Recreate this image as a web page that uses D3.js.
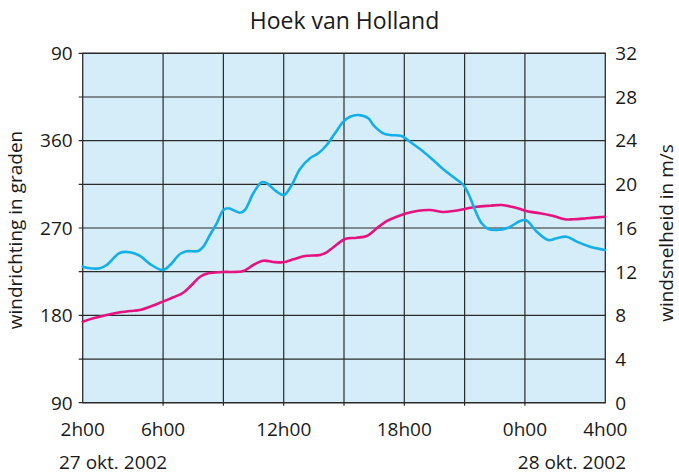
<!DOCTYPE html>
<html>
<head>
<meta charset="utf-8">
<script src="https://cdn.jsdelivr.net/npm/d3@7"></script>
<style>
  html, body { margin: 0; padding: 0; background: #ffffff; }
  svg text { font-family: "Open Sans", "Noto Sans", sans-serif; fill: #1a1a1a; }
</style>
</head>
<body>
<svg id="chart" width="679" height="476"></svg>
<script>
// ---- data (hours counted from 0h00 on 27 okt. 2002) ----
const speedHours = [2, 2.36, 2.86, 3.19, 3.86, 4.35, 4.85, 5.35, 5.98, 6.35, 6.84, 7.17, 7.75, 8.0, 8.33, 8.67, 9.0, 9.24, 9.83, 10.07, 10.49, 10.9, 11.15, 11.65, 12.01, 12.4, 12.81, 13.31, 13.72, 14.14, 14.55, 14.97, 15.3, 15.71, 16.21, 16.46, 16.96, 17.29, 17.87, 18.28, 18.95, 19.53, 19.94, 20.52, 20.94, 21.18, 21.52, 21.85, 22.18, 22.6, 23.17, 23.76, 24.01, 24.17, 24.59, 25.16, 25.58, 26.08, 26.58, 27.24, 27.99];
const speedValues = [12.46, 12.31, 12.31, 12.61, 13.74, 13.78, 13.44, 12.70, 12.15, 12.61, 13.62, 13.87, 13.89, 14.29, 15.36, 16.43, 17.65, 17.81, 17.40, 17.65, 19.18, 20.19, 20.10, 19.33, 19.02, 19.94, 21.41, 22.39, 22.84, 23.60, 24.67, 25.74, 26.19, 26.35, 26.05, 25.43, 24.67, 24.52, 24.43, 23.90, 22.99, 22.07, 21.38, 20.55, 19.94, 19.18, 17.65, 16.43, 15.91, 15.82, 16.03, 16.64, 16.73, 16.58, 15.66, 14.90, 15.06, 15.20, 14.75, 14.29, 13.99];

const directionHours = [2, 2.53, 3.19, 3.86, 4.35, 4.85, 5.35, 5.98, 6.51, 7.0, 7.42, 7.84, 8.25, 8.58, 9.0, 9.99, 10.49, 10.99, 11.48, 11.98, 12.48, 13.06, 13.81, 14.14, 14.47, 15.05, 15.63, 16.13, 16.63, 17.12, 17.62, 18.12, 18.7, 19.28, 19.94, 20.44, 21.02, 21.6, 22.26, 22.85, 23.34, 23.76, 24.0, 24.75, 25.41, 25.99, 26.41, 27.07, 27.99];
const directionValues = [173.5, 177.0, 180.4, 183.1, 184.5, 185.5, 188.9, 194.1, 198.6, 203.3, 211.3, 219.8, 223.3, 224.1, 224.7, 225.7, 231.9, 236.3, 235.0, 234.7, 237.7, 241.1, 242.2, 245.0, 250.1, 258.7, 260.0, 261.7, 269.7, 277.2, 281.6, 285.1, 287.8, 288.5, 286.5, 287.5, 289.6, 291.9, 293.0, 293.7, 291.9, 289.6, 287.8, 285.1, 282.4, 279.0, 279.0, 280.0, 281.6];

const xTickHours = [2, 6, 12, 18, 24, 28];
const xTickLabels = ["2h00", "6h00", "12h00", "18h00", "0h00", "4h00"];
const xGridHours = [6, 9, 12, 15, 18, 21, 24];
const leftTickValues = [90, 180, 270, 360, 450];
const leftTickLabels = ["90", "180", "270", "360", "90"];
const rightTickValues = [0, 4, 8, 12, 16, 20, 24, 28, 32];
const dateLabels = ["27 okt. 2002", "28 okt. 2002"];
const title = "Hoek van Holland";
const leftTitle = "windrichting in graden";
const rightTitle = "windsnelheid in m/s";

// ---- layout ----
const plot = { left: 82.7, top: 53.3, right: 605.3, bottom: 402.7 };
const svg = d3.select("#chart");

const x = d3.scaleLinear().domain([2, 28]).range([plot.left, plot.right]);
const yDir = d3.scaleLinear().domain([90, 450]).range([plot.bottom, plot.top]);
const ySpd = d3.scaleLinear().domain([0, 32]).range([plot.bottom, plot.top]);

// background
svg.append("rect")
  .attr("x", plot.left).attr("y", plot.top)
  .attr("width", plot.right - plot.left).attr("height", plot.bottom - plot.top)
  .attr("fill", "#d4edf9");

const gridColor = "#2b2b2b";
// horizontal grid (every 4 m/s), extending slightly left as ticks
svg.append("g").selectAll("line").data(rightTickValues).join("line")
  .attr("x1", plot.left - 4).attr("x2", plot.right)
  .attr("y1", d => ySpd(d)).attr("y2", d => ySpd(d))
  .attr("stroke", gridColor).attr("stroke-width", 1.2);

// vertical grid
svg.append("g").selectAll("line").data(xGridHours).join("line")
  .attr("x1", d => x(d)).attr("x2", d => x(d))
  .attr("y1", plot.top).attr("y2", plot.bottom + 3)
  .attr("stroke", gridColor).attr("stroke-width", 1.2);

// frame
svg.append("rect")
  .attr("x", plot.left).attr("y", plot.top)
  .attr("width", plot.right - plot.left).attr("height", plot.bottom - plot.top)
  .attr("fill", "none").attr("stroke", gridColor).attr("stroke-width", 1.3);

// left axis labels
const fs = 19;
svg.append("g").selectAll("text").data(leftTickValues).join("text")
  .attr("x", plot.left - 10).attr("y", d => yDir(d))
  .attr("dy", "0.36em").attr("text-anchor", "end")
  .attr("font-size", fs)
  .text((d, i) => leftTickLabels[i]);

// right axis labels
svg.append("g").selectAll("text").data(rightTickValues).join("text")
  .attr("x", plot.right + 10).attr("y", d => ySpd(d))
  .attr("dy", "0.36em").attr("text-anchor", "start")
  .attr("font-size", fs)
  .text(d => d);

// x labels
svg.append("g").selectAll("text").data(xTickHours).join("text")
  .attr("x", d => x(d)).attr("y", 436)
  .attr("text-anchor", "middle")
  .attr("font-size", fs)
  .text((d, i) => xTickLabels[i]);

svg.append("text").attr("x", 59).attr("y", 469)
  .attr("text-anchor", "start").attr("font-size", fs).text(dateLabels[0]);
svg.append("text").attr("x", 626).attr("y", 469)
  .attr("text-anchor", "end").attr("font-size", fs).text(dateLabels[1]);

// title
svg.append("text").attr("x", 344.5).attr("y", 29)
  .attr("text-anchor", "middle").attr("font-size", 23).text(title);

// axis titles
svg.append("text")
  .attr("transform", `translate(22, 230) rotate(-90)`)
  .attr("text-anchor", "middle").attr("font-size", fs).text(leftTitle);
svg.append("text")
  .attr("transform", `translate(673, 233) rotate(-90)`)
  .attr("text-anchor", "middle").attr("font-size", fs).text(rightTitle);

// lines
const lineDir = d3.line()
  .x((d, i) => x(directionHours[i]))
  .y(d => yDir(d))
  .curve(d3.curveCatmullRom.alpha(0.5));
const lineSpd = d3.line()
  .x((d, i) => x(speedHours[i]))
  .y(d => ySpd(d))
  .curve(d3.curveCatmullRom.alpha(0.5));

svg.append("path").datum(directionValues)
  .attr("d", lineDir).attr("fill", "none")
  .attr("stroke", "#e5127f").attr("stroke-width", 2.6)
  .attr("stroke-linejoin", "round").attr("stroke-linecap", "round");

svg.append("path").datum(speedValues)
  .attr("d", lineSpd).attr("fill", "none")
  .attr("stroke", "#14afe8").attr("stroke-width", 2.6)
  .attr("stroke-linejoin", "round").attr("stroke-linecap", "round");
</script>
</body>
</html>
